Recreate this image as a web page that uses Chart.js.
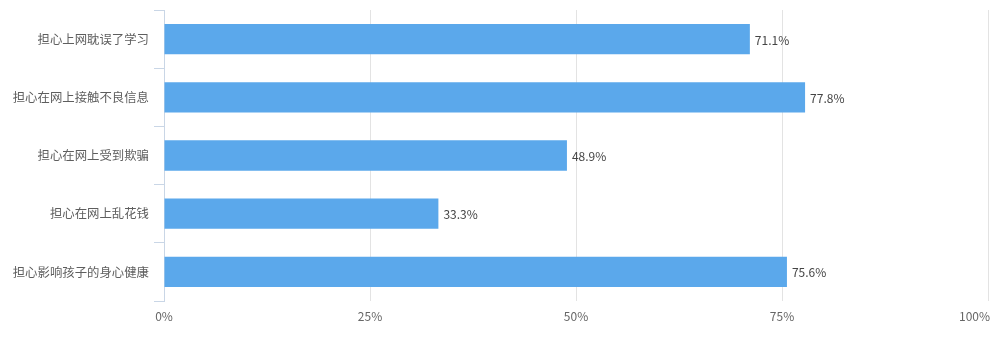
<!DOCTYPE html>
<html>
<head>
<meta charset="utf-8">
<script src="https://cdn.jsdelivr.net/npm/chart.js@4"></script>
<style>
  html, body { margin: 0; padding: 0; background: #fff; }
  #wrap { width: 1000px; height: 339px; position: relative; }
</style>
</head>
<body>
<div id="wrap"><canvas id="mainChart"></canvas></div>
<script>
// 数据
const categories = ['担心上网耽误了学习', '担心在网上接触不良信息', '担心在网上受到欺骗', '担心在网上乱花钱', '担心影响孩子的身心健康'];
const values = [71.1, 77.8, 48.9, 33.3, 75.6];
const xTicks = [0, 25, 50, 75, 100];

const FONT = '"Noto Sans CJK SC", "Noto Sans", sans-serif';

// 柱子右侧的数值标签 + x 轴刻度文字（最后一个靠右）
const valueLabels = {
    id: 'valueLabels',
    afterDatasetsDraw(chart) {
        const ctx = chart.ctx;
        const meta = chart.getDatasetMeta(0);
        ctx.save();
        ctx.font = '12px ' + FONT;
        ctx.fillStyle = '#444';
        ctx.textAlign = 'left';
        ctx.textBaseline = 'middle';
        meta.data.forEach((bar, i) => {
            ctx.fillText(values[i].toFixed(1) + '%', bar.x + 5, bar.y + 1);
        });

        const xs = chart.scales.x;
        ctx.fillStyle = '#666';
        ctx.textBaseline = 'top';
        xTicks.forEach((v, i) => {
            const px = xs.getPixelForValue(v);
            const last = i === xTicks.length - 1;
            ctx.textAlign = last ? 'right' : 'center';
            ctx.fillText(v + '%', last ? px + 2 : px, chart.chartArea.bottom + 9);
        });
        ctx.restore();
    }
};

const ctx = document.getElementById('mainChart').getContext('2d');
new Chart(ctx, {
    type: 'bar',
    data: {
        labels: categories,
        datasets: [{
            data: values,
            backgroundColor: '#5ba8eb',
            borderWidth: 0,
            barPercentage: 0.52,
            categoryPercentage: 1
        }]
    },
    options: {
        indexAxis: 'y',
        responsive: true,
        maintainAspectRatio: false,
        animation: false,
        layout: { padding: { top: 10, right: 12, left: 0, bottom: 0 } },
        plugins: { legend: { display: false }, tooltip: { enabled: false } },
        scales: {
            x: {
                min: 0,
                max: 100,
                afterBuildTicks: s => { s.ticks = xTicks.map(v => ({ value: v })); },
                afterFit: s => { s.height = 38; s.paddingLeft = 0; s.paddingRight = 0; },
                border: { display: false },
                grid: {
                    color: c => c.tick && c.tick.value === 0 ? 'rgba(0,0,0,0)' : '#e3e3e3',
                    drawTicks: false
                },
                ticks: { display: false }
            },
            y: {
                afterFit: s => { s.width = 164; s.paddingTop = 0; s.paddingBottom = 0; },
                border: { display: true, color: '#c9d6e6', width: 1 },
                grid: {
                    drawOnChartArea: false,
                    color: '#c9d6e6',
                    tickLength: 10,
                    offset: true
                },
                ticks: {
                    padding: 5,
                    color: '#5e5e5e',
                    font: { family: FONT, size: 12.4 }
                }
            }
        }
    },
    plugins: [valueLabels]
});
</script>
</body>
</html>
